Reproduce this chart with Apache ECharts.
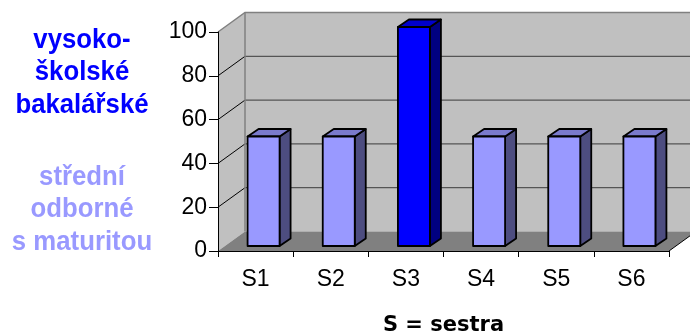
<!DOCTYPE html>
<html>
<head>
<meta charset="utf-8">
<script src="https://cdn.jsdelivr.net/npm/echarts@6/dist/echarts.min.js"></script>
<style>
  html, body { margin: 0; padding: 0; background: #ffffff; }
  #chart { width: 690px; height: 336px; }
</style>
</head>
<body>
<div id="chart"></div>
<script>
// Nurses S1..S6 and the share (%) with the given level of education
const categories = ['S1', 'S2', 'S3', 'S4', 'S5', 'S6'];
const shares = [50, 50, 100, 50, 50, 50];
// 0 = vysokoškolské bakalářské, 1 = střední odborné s maturitou
const educationLevel = [1, 1, 0, 1, 1, 1];
const levelLines = [
  ['vysoko-', 'školské', 'bakalářské'],
  ['střední', 'odborné', 's maturitou']
];
const yMin = 0;
const yMax = 100;
const yStep = 20;
const xAxisTitle = 'S = sestra';

// ---- styling ----
const levelColors = [
  { text: '#0000FF', front: '#0000FF', top: '#0000CC', side: '#000080' },
  { text: '#9999FF', front: '#9999FF', top: '#7A7ACC', side: '#4D4D80' }
];
const DX = 27, DY = -19.5;          // depth of the plot box
const BAR_SHIFT_X = 8, BAR_SHIFT_Y = -5;   // bar front plane inside the box
const BAR_W = 32;                   // bar front width
const BAR_DX = 11, BAR_DY = -7.5;   // bar depth
const labelFont = "'Liberation Sans', Arial, sans-serif";

function renderWalls(params, api) {
  const cs = params.coordSys;
  const x0 = cs.x, x1 = cs.x + cs.width;
  const yAt = v => api.coord([0, v])[1];
  const yb = yAt(yMin), yt = yAt(yMax);
  const children = [];
  children.push({ type: 'polygon', shape: { points: [[x0 + DX, yb + DY], [x0 + DX, yt + DY], [x1 + DX, yt + DY], [x1 + DX, yb + DY]] }, style: { fill: '#C0C0C0' } });
  children.push({ type: 'polygon', shape: { points: [[x0, yb], [x0, yt], [x0 + DX, yt + DY], [x0 + DX, yb + DY]] }, style: { fill: '#C0C0C0' } });
  children.push({ type: 'polygon', shape: { points: [[x0, yb], [x1, yb], [x1 + DX, yb + DY], [x0 + DX, yb + DY]] }, style: { fill: '#808080' } });
  for (let v = yMin + yStep; v < yMax; v += yStep) {
    const y = yAt(v);
    children.push({ type: 'line', shape: { x1: x0 + DX, y1: y + DY, x2: x1 + DX, y2: y + DY }, style: { stroke: '#555555', lineWidth: 1.2 } });
    children.push({ type: 'line', shape: { x1: x0, y1: y, x2: x0 + DX, y2: y + DY }, style: { stroke: '#000000', lineWidth: 1 } });
  }
  children.push({ type: 'polyline', shape: { points: [[x0, yt], [x0 + DX, yt + DY], [x1 + DX, yt + DY]] }, style: { stroke: '#808080', lineWidth: 1.5, fill: null } });
  children.push({ type: 'line', shape: { x1: x0 + DX, y1: yt + DY, x2: x0 + DX, y2: yb + DY }, style: { stroke: '#808080', lineWidth: 1.5 } });
  children.push({ type: 'line', shape: { x1: x1, y1: yb, x2: x1 + DX, y2: yb + DY }, style: { stroke: '#000000', lineWidth: 1 } });
  return { type: 'group', children };
}

function renderBar(params, api) {
  const idx = api.value(0);
  const val = api.value(1);
  const base = api.coord([idx, yMin]);
  const top = api.coord([idx, val]);
  const cx = base[0] + BAR_SHIFT_X;
  const yb = base[1] + BAR_SHIFT_Y;
  const yt = top[1] + BAR_SHIFT_Y;
  const xl = cx - BAR_W / 2, xr = cx + BAR_W / 2;
  const pal = levelColors[educationLevel[idx]];
  const edge = { stroke: '#000000', lineWidth: 1.8, lineJoin: 'round' };
  return {
    type: 'group',
    children: [
      { type: 'polygon', shape: { points: [[xr, yb], [xr, yt], [xr + BAR_DX, yt + BAR_DY], [xr + BAR_DX, yb + BAR_DY]] }, style: Object.assign({ fill: pal.side }, edge) },
      { type: 'polygon', shape: { points: [[xl, yt], [xr, yt], [xr + BAR_DX, yt + BAR_DY], [xl + BAR_DX, yt + BAR_DY]] }, style: Object.assign({ fill: pal.top }, edge) },
      { type: 'rect', shape: { x: xl, y: yt, width: BAR_W, height: yb - yt }, style: Object.assign({ fill: pal.front }, edge) }
    ]
  };
}

// left-hand caption blocks
const captionStarts = [40, 177];
const captionStep = 32.5;
const graphics = [];
levelLines.forEach((lines, b) => {
  lines.forEach((line, i) => {
    graphics.push({
      type: 'text',
      x: 82,
      y: captionStarts[b] + i * captionStep,
      scaleX: 0.92,
      style: {
        text: line,
        fill: levelColors[b].text,
        font: "bold 28px 'Liberation Sans', Arial, sans-serif",
        align: 'center',
        verticalAlign: 'middle'
      }
    });
  });
});

const chart = echarts.init(document.getElementById('chart'), null, { renderer: 'canvas' });
chart.setOption({
  backgroundColor: '#ffffff',
  animation: false,
  grid: { left: 218, right: 21, top: 32, bottom: 85, containLabel: false, outerBoundsMode: 'none' },
  graphic: graphics,
  xAxis: {
    type: 'category',
    data: categories,
    z: 10,
    boundaryGap: true,
    axisLine: { lineStyle: { color: '#000000', width: 1 } },
    axisTick: { show: true, length: 6, lineStyle: { color: '#000000' } },
    axisLabel: { color: '#000000', fontFamily: labelFont, fontSize: 23, margin: 17 },
    name: xAxisTitle,
    nameLocation: 'middle',
    nameGap: 64,
    nameTextStyle: { color: '#000000', fontFamily: "'DejaVu Sans', sans-serif", fontWeight: 'bold', fontSize: 21 }
  },
  yAxis: {
    type: 'value',
    min: yMin,
    max: yMax,
    interval: yStep,
    z: 10,
    axisLine: { show: true, lineStyle: { color: '#000000', width: 1 } },
    axisTick: { show: true, length: 9, lineStyle: { color: '#000000' } },
    axisLabel: { color: '#000000', fontFamily: labelFont, fontSize: 23, margin: 11 },
    splitLine: { show: false }
  },
  series: [
    {
      type: 'custom',
      z: 1,
      silent: true,
      renderItem: renderWalls,
      data: [[0, yMax]],
      encode: { x: 0, y: 1 }
    },
    {
      type: 'custom',
      z: 2,
      renderItem: renderBar,
      data: shares.map((v, i) => [i, v]),
      encode: { x: 0, y: 1 }
    }
  ]
});
</script>
</body>
</html>
